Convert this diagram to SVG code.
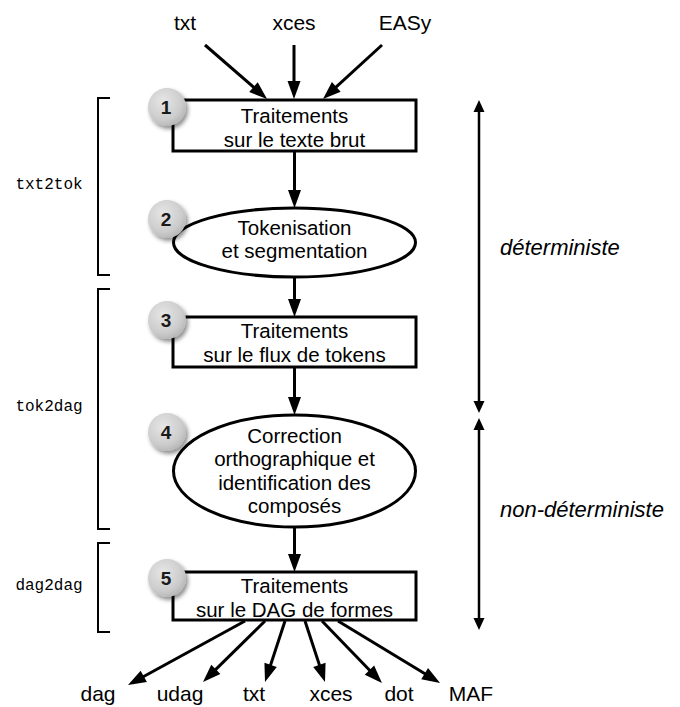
<svg xmlns="http://www.w3.org/2000/svg" width="680" height="707" viewBox="0 0 680 707">
<style>
text{font-family:"Liberation Sans",Arial,sans-serif;fill:#000}
.lbl{font-size:20.5px;text-anchor:middle}
.io{font-size:21px;text-anchor:middle}
.mono{font-family:"Liberation Mono","Courier New",monospace;font-size:16px;text-anchor:middle}
.it{font-size:22px;font-style:italic}
.num{font-size:19px;font-weight:bold;text-anchor:middle;fill:#1a1a1a}
.shape{fill:#fff;stroke:#000;stroke-width:3}
.ar{stroke:#000;stroke-width:3;fill:none;marker-end:url(#ah)}
.br{stroke:#000;stroke-width:2;fill:none}
.rv{stroke:#000;stroke-width:2.5;fill:none;marker-start:url(#sh);marker-end:url(#sh)}
.badge{fill:url(#bg);filter:url(#ds)}
</style>
<defs>
<marker id="ah" markerUnits="userSpaceOnUse" markerWidth="18" markerHeight="13" refX="10" refY="6.5" orient="auto" overflow="visible"><path d="M0,0 L18,6.5 L0,13 z" fill="#000"/></marker>
<marker id="sh" markerUnits="userSpaceOnUse" markerWidth="12" markerHeight="11" refX="6" refY="5.5" orient="auto-start-reverse" overflow="visible"><path d="M0,0 L12,5.5 L0,11 z" fill="#000"/></marker>
<radialGradient id="bg" cx="0.4" cy="0.35" r="0.7"><stop offset="0" stop-color="#e6e6e6"/><stop offset="0.7" stop-color="#cccccc"/><stop offset="1" stop-color="#b4b4b4"/></radialGradient>
<filter id="ds" x="-50%" y="-50%" width="200%" height="200%"><feDropShadow dx="2" dy="3" stdDeviation="2" flood-color="#000" flood-opacity="0.45"/></filter>
</defs>

<g id="connectors">
<line class="ar" x1="205" y1="45" x2="261" y2="93.7"/>
<line class="ar" x1="294" y1="45" x2="294" y2="91"/>
<line class="ar" x1="382" y1="45" x2="328.9" y2="93.6"/>
<line class="ar" x1="294.5" y1="151" x2="294.5" y2="200"/>
<line class="ar" x1="294.5" y1="277" x2="294.5" y2="309"/>
<line class="ar" x1="294.5" y1="367" x2="294.5" y2="407"/>
<line class="ar" x1="294.5" y1="527" x2="294.5" y2="564"/>
<line class="ar" x1="245" y1="621" x2="135" y2="681.2"/>
<line class="ar" x1="265" y1="621" x2="208.7" y2="676.4"/>
<line class="ar" x1="285" y1="621" x2="267.5" y2="674.4"/>
<line class="ar" x1="305" y1="621" x2="322.5" y2="674.4"/>
<line class="ar" x1="322" y1="621" x2="376.4" y2="677.3"/>
<line class="ar" x1="338" y1="621" x2="433.2" y2="678.8"/>
</g>

<g id="inputs">
<text class="io" x="185" y="30">txt</text>
<text class="io" x="294" y="30">xces</text>
<text class="io" x="405" y="30">EASy</text>
</g>

<g id="node1">
<rect class="shape" x="173" y="100" width="243" height="51"/>
<text class="lbl" x="294.5" y="123">Traitements</text>
<text class="lbl" x="294.5" y="147">sur le texte brut</text>
<circle class="badge" cx="167" cy="107" r="19"/>
<text class="num" x="166" y="114">1</text>
</g>

<g id="node2">
<ellipse class="shape" cx="294.5" cy="242.5" rx="121" ry="34.5"/>
<text class="lbl" x="294.5" y="235">Tokenisation</text>
<text class="lbl" x="294.5" y="258">et segmentation</text>
<circle class="badge" cx="167" cy="219" r="19"/>
<text class="num" x="166" y="226">2</text>
</g>

<g id="node3">
<rect class="shape" x="173" y="317" width="243" height="50"/>
<text class="lbl" x="294.5" y="338">Traitements</text>
<text class="lbl" x="294.5" y="362">sur le flux de tokens</text>
<circle class="badge" cx="167" cy="320" r="19"/>
<text class="num" x="166" y="327">3</text>
</g>

<g id="node4">
<ellipse class="shape" cx="294.5" cy="471" rx="121" ry="56"/>
<text class="lbl" x="294.5" y="443">Correction</text>
<text class="lbl" x="294.5" y="466">orthographique et</text>
<text class="lbl" x="294.5" y="490">identification des</text>
<text class="lbl" x="294.5" y="513">composés</text>
<circle class="badge" cx="167" cy="432" r="19"/>
<text class="num" x="166" y="439">4</text>
</g>

<g id="node5">
<rect class="shape" x="173" y="572" width="243" height="48"/>
<text class="lbl" x="294.5" y="593">Traitements</text>
<text class="lbl" x="294.5" y="617">sur le DAG de formes</text>
<circle class="badge" cx="167" cy="578" r="19"/>
<text class="num" x="166" y="585">5</text>
</g>

<g id="outputs">
<text class="io" x="98" y="701">dag</text>
<text class="io" x="180" y="701">udag</text>
<text class="io" x="254" y="701">txt</text>
<text class="io" x="331" y="701">xces</text>
<text class="io" x="399" y="701">dot</text>
<text class="io" x="471" y="701">MAF</text>
</g>

<g id="brackets">
<path class="br" d="M110,98 H98 V275 H110"/>
<path class="br" d="M110,289 H98 V529 H110"/>
<path class="br" d="M110,543 H98 V632 H110"/>
<text class="mono" x="49" y="189">txt2tok</text>
<text class="mono" x="49" y="411">tok2dag</text>
<text class="mono" x="49" y="590">dag2dag</text>
</g>

<g id="phases">
<line class="rv" x1="479" y1="106" x2="479" y2="407"/>
<line class="rv" x1="479" y1="424" x2="479" y2="624"/>
<text class="it" x="500" y="255">déterministe</text>
<text class="it" x="500" y="517">non-déterministe</text>
</g>
</svg>
